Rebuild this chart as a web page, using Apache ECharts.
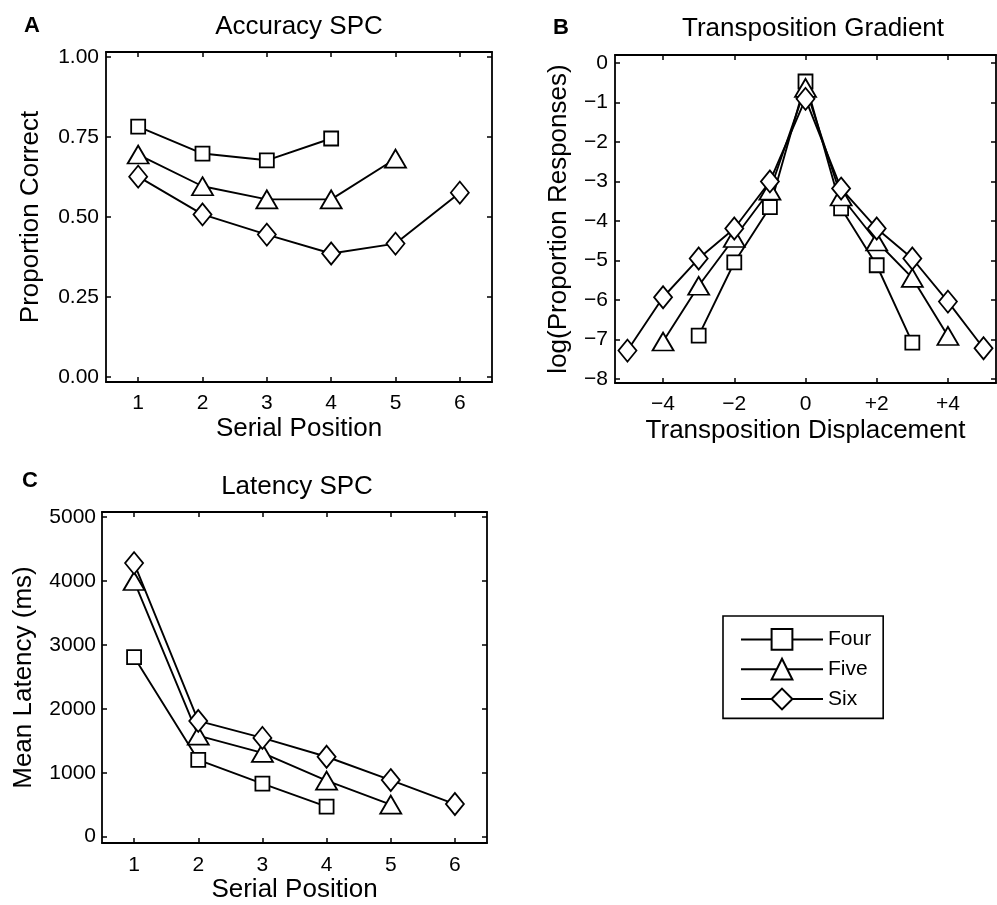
<!DOCTYPE html>
<html>
<head>
<meta charset="utf-8">
<script src="https://cdn.jsdelivr.net/npm/echarts@6/dist/echarts.min.js"></script>
<style>
  html, body { margin: 0; padding: 0; background: #fff; }
  #chart { width: 997px; height: 905px; }
</style>
</head>
<body>
<div id="chart"></div>
<script>
// List lengths shown in every panel
const listNames = ['Four', 'Five', 'Six'];

// Panel A: accuracy serial position curve
const serialPositions = [1, 2, 3, 4, 5, 6];
const accuracyFour = [0.782, 0.698, 0.677, 0.745];
const accuracyFive = [0.695, 0.596, 0.555, 0.555, 0.682];
const accuracySix  = [0.626, 0.508, 0.445, 0.386, 0.417, 0.576];
const accuracyTicks = [0, 0.25, 0.5, 0.75, 1];

// Panel B: transposition gradient (log proportion of responses)
const displacementFour = [-3, -2, -1, 0, 1, 2, 3];
const displacementFive = [-4, -3, -2, -1, 0, 1, 2, 3, 4];
const displacementSix  = [-5, -4, -3, -2, -1, 0, 1, 2, 3, 4, 5];
const gradientFour = [-6.90, -5.05, -3.65, -0.47, -3.68, -5.12, -7.08];
const gradientFive = [-7.05, -5.64, -4.43, -3.23, -0.63, -3.38, -4.52, -5.44, -6.91];
const gradientSix  = [-7.28, -5.93, -4.95, -4.19, -3.00, -0.91, -3.18, -4.19, -4.95, -6.04, -7.22];
const displacementTicks = [-4, -2, 0, 2, 4];
const logTicks = [0, -1, -2, -3, -4, -5, -6, -7, -8];

// Panel C: latency serial position curve (ms)
const latencyFour = [2810, 1200, 830, 470];
const latencyFive = [4000, 1580, 1310, 875, 500];
const latencySix  = [4280, 1810, 1545, 1250, 885, 510];
const latencyTicks = [0, 1000, 2000, 3000, 4000, 5000];

const FONT = '"Liberation Sans", Arial, Helvetica, sans-serif';
const INK = '#000';

const symbolOf = { Four: 'rect', Five: 'triangle', Six: 'diamond' };
const sizeOf = { Four: [14, 14], Five: [21, 18], Six: [18, 22] };

function pairs(xs, ys) {
  return ys.map((y, i) => [xs[i], y]);
}

function lineSeries(name, grid, data) {
  return {
    type: 'line',
    name: name,
    xAxisIndex: grid * 2,
    yAxisIndex: grid * 2,
    data: data,
    symbol: symbolOf[name],
    symbolSize: sizeOf[name],
    showAllSymbol: true,
    animation: false,
    lineStyle: { color: INK, width: 1.9 },
    itemStyle: { color: '#fff', borderColor: INK, borderWidth: 1.8 },
    emphasis: { disabled: true }
  };
}

const minus = v => (v < 0 ? '\u2212' + Math.abs(v) : String(v));
const signed = v => (v > 0 ? '+' + v : minus(v));

// main axis (with labels and name) plus a mirrored axis carrying inward ticks
function axisPair(kind, grid, min, max, ticks, fmt, name, nameGap, labelMargin) {
  const common = {
    type: 'value',
    gridIndex: grid,
    min: min,
    max: max,
    splitLine: { show: false },
    axisLine: { show: true, onZero: false, lineStyle: { color: INK, width: 1.8 } },
    axisTick: { show: true, inside: true, length: 5, customValues: ticks,
                lineStyle: { color: INK, width: 1.5 } }
  };
  const main = Object.assign({}, common, {
    position: kind === 'x' ? 'bottom' : 'left',
    axisLabel: { show: true, customValues: ticks, formatter: fmt, margin: labelMargin,
                 color: INK, fontFamily: FONT, fontSize: 21 },
    name: name,
    nameLocation: 'middle',
    nameGap: nameGap,
    nameTextStyle: { color: INK, fontFamily: FONT, fontSize: 26 }
  });
  const mirror = Object.assign({}, common, {
    position: kind === 'x' ? 'top' : 'right',
    axisLabel: { show: false }
  });
  return [main, mirror];
}

const xAxes = [
  ...axisPair('x', 0, 0.5, 6.5, serialPositions, v => String(v), 'Serial Position', 34, 11),
  ...axisPair('x', 1, -5.35, 5.35, displacementTicks, signed, 'Transposition Displacement', 35, 11),
  ...axisPair('x', 2, 0.5, 6.5, serialPositions, v => String(v), 'Serial Position', 34, 12)
];
const yAxes = [
  ...axisPair('y', 0, -0.015, 1.015, accuracyTicks, v => v.toFixed(2), 'Proportion Correct', 62, 7),
  ...axisPair('y', 1, -8.1, 0.2, logTicks, minus, 'log(Proportion Responses)', 43, 7),
  ...axisPair('y', 2, -100, 5080, latencyTicks, v => String(v), 'Mean Latency (ms)', 65, 6)
];

const series = [
  lineSeries('Four', 0, pairs(serialPositions, accuracyFour)),
  lineSeries('Five', 0, pairs(serialPositions, accuracyFive)),
  lineSeries('Six', 0, pairs(serialPositions, accuracySix)),
  lineSeries('Four', 1, pairs(displacementFour, gradientFour)),
  lineSeries('Five', 1, pairs(displacementFive, gradientFive)),
  lineSeries('Six', 1, pairs(displacementSix, gradientSix)),
  lineSeries('Four', 2, pairs(serialPositions, latencyFour)),
  lineSeries('Five', 2, pairs(serialPositions, latencyFive)),
  lineSeries('Six', 2, pairs(serialPositions, latencySix))
];

function label(text, x, y, size, bold) {
  return {
    type: 'text',
    x: x,
    y: y,
    silent: true,
    style: {
      text: text,
      fill: INK,
      font: (bold ? 'bold ' : '') + size + 'px ' + FONT,
      align: 'center',
      verticalAlign: 'middle',
      textAlign: 'center',
      textVerticalAlign: 'middle'
    }
  };
}

const chart = echarts.init(document.getElementById('chart'), null, { renderer: 'canvas' });
chart.setOption({
  animation: false,
  backgroundColor: '#fff',
  grid: [
    { left: 106, top: 52, width: 386, height: 330 },
    { left: 615, top: 55, width: 381, height: 328 },
    { left: 102, top: 512, width: 385, height: 331 }
  ],
  xAxis: xAxes,
  yAxis: yAxes,
  legend: {
    data: listNames,
    orient: 'vertical',
    left: 723,
    top: 616,
    itemWidth: 82,
    itemHeight: 26,
    itemGap: 7,
    padding: [12, 12, 8, 17],
    borderColor: INK,
    borderWidth: 1.6,
    selectedMode: false,
    textStyle: { color: INK, fontFamily: FONT, fontSize: 21 }
  },
  graphic: [
    label('A', 32, 26, 22, true),
    label('Accuracy SPC', 299, 27, 26, false),
    label('B', 561, 28, 22, true),
    label('Transposition Gradient', 813, 29, 26, false),
    label('C', 30, 481, 22, true),
    label('Latency SPC', 297, 487, 26, false)
  ],
  series: series
});
</script>
</body>
</html>
